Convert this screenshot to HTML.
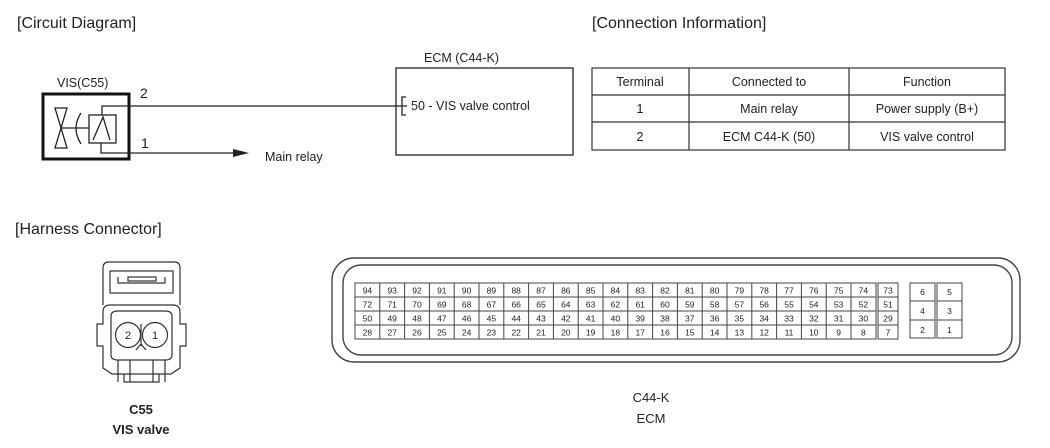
<!DOCTYPE html>
<html><head><meta charset="utf-8"><style>
html,body{margin:0;padding:0;background:#fff;}
svg{display:block;font-family:"Liberation Sans",Arial,sans-serif;}
.g text{font-size:8.5px;text-anchor:middle;fill:#222}
</style></head><body>
<svg width="1050" height="448" viewBox="0 0 1050 448" xmlns="http://www.w3.org/2000/svg">
<g fill="#222" font-size="16">
<text x="17" y="28">[Circuit Diagram]</text>
<text x="592" y="28">[Connection Information]</text>
<text x="15" y="234">[Harness Connector]</text>
</g>
<!-- VIS -->
<text x="57" y="87" font-size="12.5" fill="#222">VIS(C55)</text>
<rect x="43" y="94" width="86" height="65" fill="none" stroke="#111" stroke-width="3"/>
<g stroke="#222" stroke-width="1.3" fill="none">
<path d="M55 108 L67 108 L55 148 L67 148 Z"/>
<line x1="61" y1="128" x2="89" y2="128"/>
<path d="M81 113 Q71 128 81 144"/>
<rect x="89" y="115" width="27" height="28"/>
<path d="M93 140 L103 117 L110 140"/>
<path d="M102 115 L102 106 L407 106"/>
<path d="M101 143 L101 153 L235 153"/>
<path d="M406 97 L402 97 L402 115 L406 115"/>
</g>
<path d="M233 149 L249 153 L233 157 Z" fill="#222"/>
<text x="140" y="98" font-size="14" fill="#222">2</text>
<text x="141" y="148" font-size="14" fill="#222">1</text>
<text x="265" y="161" font-size="12.5" fill="#222">Main relay</text>
<!-- ECM box -->
<text x="424" y="62" font-size="12.5" fill="#222">ECM (C44-K)</text>
<rect x="396" y="68" width="177" height="87" fill="none" stroke="#222" stroke-width="1.3"/>
<text x="411" y="110" font-size="12.5" fill="#222">50 - VIS valve control</text>
<!-- table -->
<g stroke="#333" stroke-width="1.2" fill="none">
<rect x="592" y="68" width="413" height="82"/>
<line x1="592" y1="95" x2="1005" y2="95"/>
<line x1="592" y1="122" x2="1005" y2="122"/>
<line x1="689" y1="68" x2="689" y2="150"/>
<line x1="849" y1="68" x2="849" y2="150"/>
</g>
<g font-size="12.5" fill="#222" text-anchor="middle">
<text x="640" y="86">Terminal</text><text x="769" y="86">Connected to</text><text x="927" y="86">Function</text>
<text x="640" y="113">1</text><text x="769" y="113">Main relay</text><text x="927" y="113">Power supply (B+)</text>
<text x="640" y="141">2</text><text x="769" y="141">ECM C44-K (50)</text><text x="927" y="141">VIS valve control</text>
</g>
<!-- C55 connector -->
<g stroke="#333" stroke-width="1.2" fill="none">
<path d="M103 305 L103 268 Q103 262 109 262 L174 262 Q180 262 180 268 L180 305"/>
<rect x="110" y="271" width="63" height="22"/>
<path d="M118 277 L118 283 L165 283 L165 277"/>
<rect x="128" y="277" width="28" height="4"/>
<path d="M110 305 Q103 305 103 312 L103 324 L97 324 L97 346 L103 346 L103 368 L112 374 L171 374 L180 368 L180 346 L186 346 L186 324 L180 324 L180 312 Q180 305 173 305 Z"/>
<path d="M124 374 L124 382 L159 382 L159 374"/>
<path d="M111 316 Q111 311 118 311 L165 311 Q172 311 172 316 L172 355 Q172 360 165 360 L118 360 Q111 360 111 355 Z"/>
<circle cx="128" cy="335" r="12.5"/>
<circle cx="155" cy="335" r="12.5"/>
<path d="M141 324 L141 346 M136 350 L141 344 L146 350"/>
<path d="M118 360 L118 382 M130 360 L130 382 M153 360 L153 382 M165 360 L165 382"/>
</g>
<text x="128" y="339" font-size="11" text-anchor="middle" fill="#222">2</text>
<text x="155" y="339" font-size="11" text-anchor="middle" fill="#222">1</text>
<text x="141" y="414" font-size="13" font-weight="bold" text-anchor="middle" fill="#222">C55</text>
<text x="141" y="434" font-size="13" font-weight="bold" text-anchor="middle" fill="#222">VIS valve</text>
<!-- ECM connector -->
<g stroke="#444" stroke-width="1.4" fill="none">
<rect x="332" y="258" width="688" height="104" rx="22"/>
<rect x="343" y="265" width="669" height="90" rx="18"/>
</g>
<g stroke="#444" stroke-width="1" fill="none">
<rect x="355" y="283" width="521" height="56"/>
<path d="M355 297H876M355 311H876M355 325H876"/>
<path d="M379.8 283V339M404.6 283V339M429.4 283V339M454.2 283V339M479 283V339M503.8 283V339M528.6 283V339M553.4 283V339M578.2 283V339M603 283V339M627.8 283V339M652.6 283V339M677.4 283V339M702.2 283V339M727 283V339M751.8 283V339M776.6 283V339M801.4 283V339M826.2 283V339M851 283V339"/>
<rect x="878" y="283" width="20" height="56"/>
<path d="M878 297H898M878 311H898M878 325H898"/>
<rect x="910" y="283" width="25" height="55"/>
<rect x="937" y="283" width="25" height="55"/>
<path d="M910 301H935M910 320H935M937 301H962M937 320H962"/>
</g>
<g class="g">
<text x="367.4" y="293.5">94</text><text x="392.2" y="293.5">93</text><text x="417" y="293.5">92</text><text x="441.8" y="293.5">91</text><text x="466.6" y="293.5">90</text><text x="491.4" y="293.5">89</text><text x="516.2" y="293.5">88</text><text x="541" y="293.5">87</text><text x="565.8" y="293.5">86</text><text x="590.6" y="293.5">85</text><text x="615.4" y="293.5">84</text><text x="640.2" y="293.5">83</text><text x="665" y="293.5">82</text><text x="689.8" y="293.5">81</text><text x="714.6" y="293.5">80</text><text x="739.4" y="293.5">79</text><text x="764.2" y="293.5">78</text><text x="789" y="293.5">77</text><text x="813.8" y="293.5">76</text><text x="838.6" y="293.5">75</text><text x="863.4" y="293.5">74</text><text x="888" y="293.5">73</text>
<text x="367.4" y="307.5">72</text><text x="392.2" y="307.5">71</text><text x="417" y="307.5">70</text><text x="441.8" y="307.5">69</text><text x="466.6" y="307.5">68</text><text x="491.4" y="307.5">67</text><text x="516.2" y="307.5">66</text><text x="541" y="307.5">65</text><text x="565.8" y="307.5">64</text><text x="590.6" y="307.5">63</text><text x="615.4" y="307.5">62</text><text x="640.2" y="307.5">61</text><text x="665" y="307.5">60</text><text x="689.8" y="307.5">59</text><text x="714.6" y="307.5">58</text><text x="739.4" y="307.5">57</text><text x="764.2" y="307.5">56</text><text x="789" y="307.5">55</text><text x="813.8" y="307.5">54</text><text x="838.6" y="307.5">53</text><text x="863.4" y="307.5">52</text><text x="888" y="307.5">51</text>
<text x="367.4" y="321.5">50</text><text x="392.2" y="321.5">49</text><text x="417" y="321.5">48</text><text x="441.8" y="321.5">47</text><text x="466.6" y="321.5">46</text><text x="491.4" y="321.5">45</text><text x="516.2" y="321.5">44</text><text x="541" y="321.5">43</text><text x="565.8" y="321.5">42</text><text x="590.6" y="321.5">41</text><text x="615.4" y="321.5">40</text><text x="640.2" y="321.5">39</text><text x="665" y="321.5">38</text><text x="689.8" y="321.5">37</text><text x="714.6" y="321.5">36</text><text x="739.4" y="321.5">35</text><text x="764.2" y="321.5">34</text><text x="789" y="321.5">33</text><text x="813.8" y="321.5">32</text><text x="838.6" y="321.5">31</text><text x="863.4" y="321.5">30</text><text x="888" y="321.5">29</text>
<text x="367.4" y="335.5">28</text><text x="392.2" y="335.5">27</text><text x="417" y="335.5">26</text><text x="441.8" y="335.5">25</text><text x="466.6" y="335.5">24</text><text x="491.4" y="335.5">23</text><text x="516.2" y="335.5">22</text><text x="541" y="335.5">21</text><text x="565.8" y="335.5">20</text><text x="590.6" y="335.5">19</text><text x="615.4" y="335.5">18</text><text x="640.2" y="335.5">17</text><text x="665" y="335.5">16</text><text x="689.8" y="335.5">15</text><text x="714.6" y="335.5">14</text><text x="739.4" y="335.5">13</text><text x="764.2" y="335.5">12</text><text x="789" y="335.5">11</text><text x="813.8" y="335.5">10</text><text x="838.6" y="335.5">9</text><text x="863.4" y="335.5">8</text><text x="888" y="335.5">7</text>
<text x="922.5" y="295">6</text><text x="949.5" y="295">5</text>
<text x="922.5" y="314">4</text><text x="949.5" y="314">3</text>
<text x="922.5" y="333">2</text><text x="949.5" y="333">1</text>
</g>
<text x="651" y="402" font-size="13" text-anchor="middle" fill="#222">C44-K</text>
<text x="651" y="423" font-size="13" text-anchor="middle" fill="#222">ECM</text>
</svg>
</body></html>
